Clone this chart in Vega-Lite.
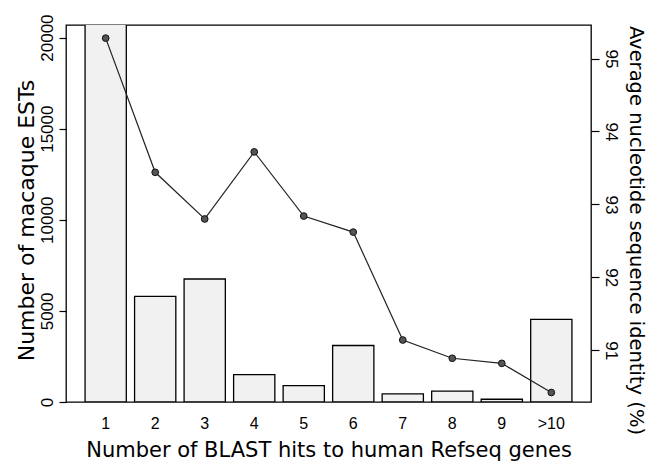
{
  "$schema": "https://vega.github.io/schema/vega-lite/v6.json",
  "width": 525,
  "height": 377,
  "autosize": {"type": "none"},
  "padding": {"left": 66, "top": 25, "right": 66, "bottom": 62},
  "background": "white",
  "config": {
    "view": {"stroke": "black", "strokeWidth": 1.3},
    "font": "Liberation Sans",
    "axis": {
      "labelFont": "Liberation Sans",
      "titleFont": "DejaVu Sans",
      "labelColor": "black",
      "titleColor": "black",
      "titleFontWeight": "normal",
      "domainColor": "black",
      "tickColor": "black",
      "tickWidth": 1.2,
      "grid": false
    }
  },
  "data": {
    "values": [
      {"hits": "1", "ests": 21000, "identity": 95.28},
      {"hits": "2", "ests": 5800, "identity": 93.44},
      {"hits": "3", "ests": 6750, "identity": 92.8},
      {"hits": "4", "ests": 1500, "identity": 93.72},
      {"hits": "5", "ests": 900, "identity": 92.84},
      {"hits": "6", "ests": 3100, "identity": 92.62},
      {"hits": "7", "ests": 450, "identity": 91.14},
      {"hits": "8", "ests": 600, "identity": 90.89},
      {"hits": "9", "ests": 150, "identity": 90.82},
      {"hits": ">10", "ests": 4530, "identity": 90.42}
    ]
  },
  "encoding": {
    "x": {
      "field": "hits",
      "type": "ordinal",
      "sort": null,
      "scale": {"paddingInner": 0.167, "paddingOuter": 0.385},
      "axis": {
        "title": "Number of BLAST hits to human Refseq genes",
        "labelAngle": 0,
        "ticks": false,
        "domain": false,
        "labelPadding": 13,
        "labelFontSize": 16,
        "titleFontSize": 21,
        "titlePadding": 8
      }
    }
  },
  "layer": [
    {
      "mark": {"type": "bar", "fill": "#f1f1f1", "stroke": "black", "strokeWidth": 1.3, "clip": true},
      "encoding": {
        "y": {
          "field": "ests",
          "type": "quantitative",
          "scale": {"domain": [0, 20690], "nice": false},
          "axis": {
            "orient": "left",
            "title": "Number of macaque ESTs",
            "format": "d",
            "values": [0, 5000, 10000, 15000, 20000],
            "labelAngle": -90,
            "labelAlign": "center",
            "labelBaseline": "bottom",
            "labelPadding": 3,
            "tickSize": 7,
            "labelFontSize": 17,
            "titleFontSize": 22,
            "titlePadding": 0,
            "titleY": 195,
            "domain": false
          }
        }
      }
    },
    {
      "encoding": {
        "y": {
          "field": "identity",
          "type": "quantitative",
          "scale": {"domain": [90.29, 95.46], "nice": false, "zero": false},
          "axis": {
            "orient": "right",
            "title": "Average nucleotide sequence identity (%)",
            "format": "d",
            "values": [91, 92, 93, 94, 95],
            "labelAngle": 90,
            "labelAlign": "center",
            "labelBaseline": "bottom",
            "labelPadding": 2,
            "tickSize": 8,
            "labelFontSize": 17,
            "titleFontSize": 19.5,
            "titleAngle": 90,
            "titlePadding": 6,
            "titleY": 205,
            "domain": false
          }
        }
      },
      "layer": [
        {"mark": {"type": "line", "color": "#222222", "strokeWidth": 1.2}},
        {"mark": {"type": "point", "filled": true, "fill": "#555555", "stroke": "#111111", "strokeWidth": 1, "size": 45, "opacity": 1}}
      ]
    }
  ],
  "resolve": {"scale": {"y": "independent"}}
}
